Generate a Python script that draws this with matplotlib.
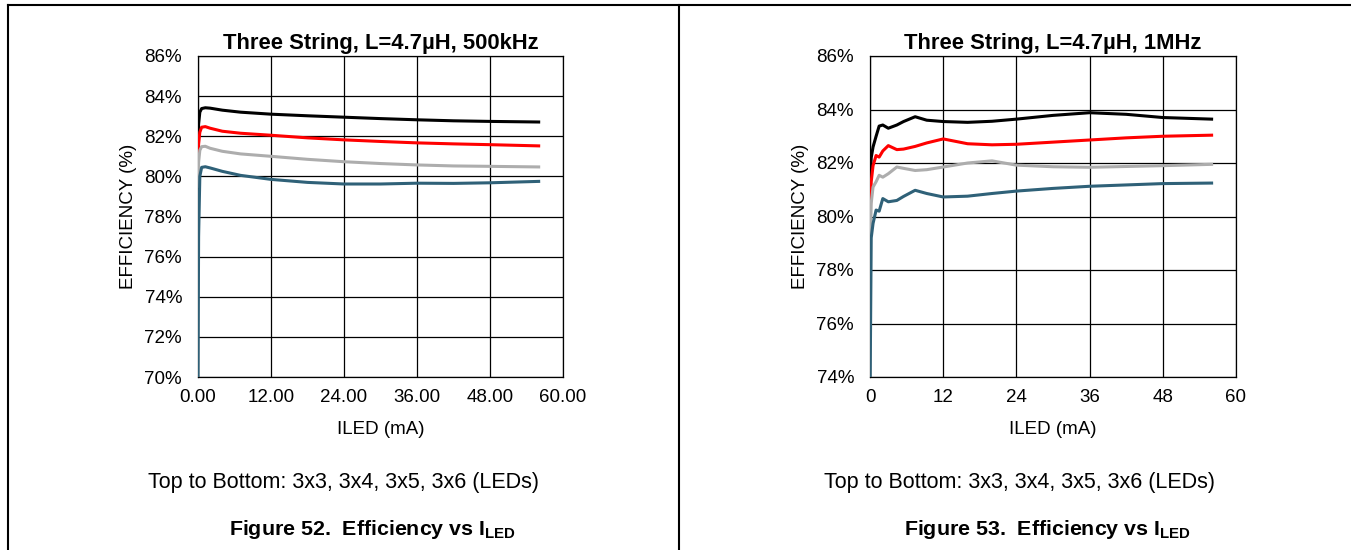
import matplotlib
matplotlib.use('Agg')
import matplotlib.pyplot as plt
from matplotlib.lines import Line2D
from matplotlib.ticker import FuncFormatter

plt.rcParams['font.family'] = ['Liberation Sans', 'DejaVu Sans']
plt.rcParams['mathtext.fontset'] = 'custom'
plt.rcParams['mathtext.rm'] = 'Liberation Sans'
plt.rcParams['mathtext.bf'] = 'Liberation Sans:bold'

# Figure 52 - 500kHz
x_500k = [0, 0.1, 0.3, 0.6, 1.2, 2, 4, 7, 12, 18, 24, 30, 36, 42, 48, 56]
eff_500k_3x3 = [81.0, 82.6, 83.2, 83.38, 83.42, 83.4, 83.3, 83.2, 83.1, 83.02, 82.95, 82.88, 82.82, 82.77, 82.74, 82.71]
eff_500k_3x4 = [80.5, 81.6, 82.2, 82.45, 82.48, 82.4, 82.25, 82.15, 82.05, 81.92, 81.82, 81.74, 81.67, 81.62, 81.58, 81.52]
eff_500k_3x5 = [79.5, 80.7, 81.3, 81.48, 81.5, 81.4, 81.25, 81.12, 81.0, 80.85, 80.73, 80.64, 80.57, 80.52, 80.5, 80.47]
eff_500k_3x6 = [70.0, 77.0, 80.0, 80.45, 80.48, 80.42, 80.25, 80.05, 79.85, 79.7, 79.62, 79.62, 79.66, 79.65, 79.68, 79.75]

# Figure 53 - 1MHz
x_1m = [0, 0.2, 0.5, 1.0, 1.5, 2.1, 3.0, 4.4, 5.5, 7.4, 9.3, 12, 16, 20, 24, 30, 36, 42, 48, 56]
eff_1m_3x3 = [81.0, 82.2, 82.6, 83.0, 83.38, 83.42, 83.3, 83.42, 83.55, 83.73, 83.6, 83.55, 83.52, 83.56, 83.64, 83.78, 83.88, 83.82, 83.7, 83.64]
eff_1m_3x4 = [79.8, 81.3, 81.9, 82.28, 82.22, 82.45, 82.65, 82.5, 82.52, 82.62, 82.75, 82.9, 82.72, 82.68, 82.7, 82.78, 82.86, 82.94, 83.0, 83.04]
eff_1m_3x5 = [78.5, 80.5, 81.1, 81.3, 81.54, 81.47, 81.6, 81.85, 81.8, 81.72, 81.75, 81.85, 82.0, 82.08, 81.92, 81.86, 81.84, 81.87, 81.9, 81.95]
eff_1m_3x6 = [73.0, 79.2, 79.74, 80.24, 80.2, 80.67, 80.55, 80.6, 80.75, 80.98, 80.86, 80.73, 80.76, 80.86, 80.95, 81.05, 81.13, 81.18, 81.23, 81.25]

xticks_500k = [0, 12, 24, 36, 48, 60]
yticks_500k = [70, 72, 74, 76, 78, 80, 82, 84, 86]
xticks_1m = [0, 12, 24, 36, 48, 60]
yticks_1m = [74, 76, 78, 80, 82, 84, 86]

colors = ['#000000', '#ff0000', '#adadad', '#2f6178']

fig = plt.figure(figsize=(13.51, 5.5), dpi=100)

# page frame lines
fig.add_artist(Line2D([8 / 1351, 1], [1 - 5 / 550, 1 - 5 / 550], color='black', lw=1.5))
fig.add_artist(Line2D([8 / 1351, 8 / 1351], [0, 1 - 5 / 550], color='black', lw=1.5))
fig.add_artist(Line2D([679 / 1351, 679 / 1351], [0, 1 - 5 / 550], color='black', lw=1.5))


def make_panel(rect, x, series, xticks, yticks, xfmt, title, caption_x, fignum, figcap_x):
    ax = fig.add_axes(rect)
    for y, c in zip(series, colors):
        ax.plot(x, y, color=c, lw=2.2, zorder=3)
    ax.set_xlim(xticks[0], xticks[-1])
    ax.set_ylim(yticks[0], yticks[-1])
    ax.set_xticks(xticks)
    ax.set_yticks(yticks)
    ax.xaxis.set_major_formatter(FuncFormatter(lambda v, p: xfmt.format(v)))
    ax.yaxis.set_major_formatter(FuncFormatter(lambda v, p: '{:.0f}%'.format(v)))
    ax.grid(True, color='black', lw=0.9)
    ax.set_axisbelow(True)
    for s in ax.spines.values():
        s.set_linewidth(0.9)
    ax.tick_params(length=0, labelsize=13.5)
    ax.tick_params(axis='y', pad=11.5)
    ax.tick_params(axis='x', pad=8.5)
    ax.set_xlabel('ILED (mA)', fontsize=13.5, labelpad=11)
    ax.set_ylabel('EFFICIENCY (%)', fontsize=13.5, labelpad=5)
    ax.set_title(title, fontsize=15.8, fontweight='bold', pad=5)
    fig.text(caption_x / 1351, 1 - 488 / 550, 'Top to Bottom: 3x3, 3x4, 3x5, 3x6 (LEDs)',
             ha='center', va='baseline', fontsize=15.5)
    fig.text(figcap_x / 1351, 1 - 535 / 550,
             'Figure ' + fignum + r'.  Efficiency vs I$_\mathbf{LED}$',
             ha='center', va='baseline', fontsize=15.4, fontweight='bold')
    return ax


make_panel([198 / 1351, 1 - 377 / 550, 365 / 1351, 321 / 550], x_500k,
           [eff_500k_3x3, eff_500k_3x4, eff_500k_3x5, eff_500k_3x6],
           xticks_500k, yticks_500k, '{:.2f}', 'Three String, L=4.7µH, 500kHz', 344, '52', 372)
make_panel([870 / 1351, 1 - 377 / 550, 366 / 1351, 321 / 550], x_1m,
           [eff_1m_3x3, eff_1m_3x4, eff_1m_3x5, eff_1m_3x6],
           xticks_1m, yticks_1m, '{:.0f}', 'Three String, L=4.7µH, 1MHz', 1020, '53', 1047)

fig.savefig('out.png', dpi=100)
